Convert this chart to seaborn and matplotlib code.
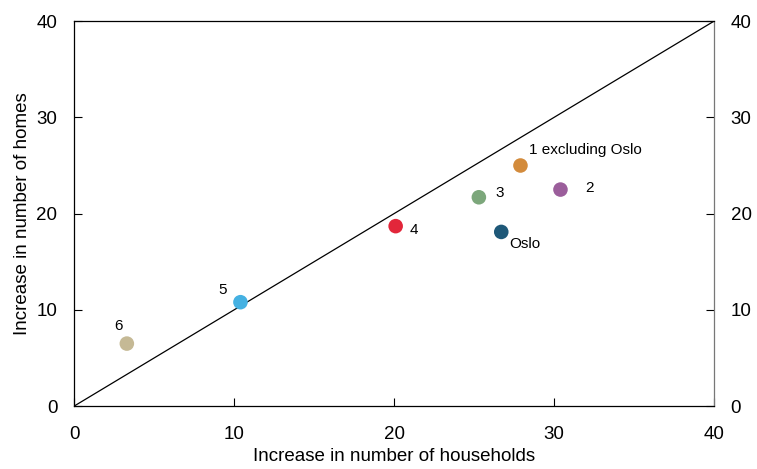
import seaborn as sns
import matplotlib.pyplot as plt
import pandas as pd

# Data
regions = ['1 excluding Oslo', '2', '3', 'Oslo', '4', '5', '6']
households = [27.9, 30.4, 25.3, 26.7, 20.1, 10.4, 3.3]
homes = [25.0, 22.5, 21.7, 18.1, 18.7, 10.8, 6.5]
colors = ['#D38B3C', '#9B5E9B', '#7CA77B', '#1E5878', '#E2263A', '#45B1E2', '#C5B995']
axis_ticks = [0, 10, 20, 30, 40]

df = pd.DataFrame({'region': regions, 'households': households, 'homes': homes})

sns.set_style('white')
plt.rcParams['font.family'] = ['Liberation Sans', 'DejaVu Sans']
plt.rcParams['text.color'] = 'black'
plt.rcParams['axes.labelcolor'] = 'black'
plt.rcParams['xtick.color'] = 'black'
plt.rcParams['ytick.color'] = 'black'

fig = plt.figure(figsize=(7.57, 4.69), dpi=100)
ax = fig.add_axes([0.0978, 0.134, 0.8455, 0.821])

# 45-degree reference line
ax.plot([0, 40], [0, 40], color='black', linewidth=0.9, zorder=1)

sns.scatterplot(data=df, x='households', y='homes', hue='region',
                palette=colors, s=110, edgecolor='none', legend=False,
                ax=ax, zorder=3)

# point labels
label_offsets = {
    '1 excluding Oslo': (6, 11, 'left'),
    '2': (18, 1, 'left'),
    '3': (12, 3, 'left'),
    'Oslo': (6, -9, 'left'),
    '4': (10, -3, 'left'),
    '5': (-10, 9, 'right'),
    '6': (-3, 13, 'right'),
}
for r, x, y in zip(regions, households, homes):
    dx, dy, ha = label_offsets[r]
    ax.annotate(r, (x, y), xytext=(dx, dy), textcoords='offset points',
                ha=ha, va='center', fontsize=11, color='black')

ax.set_xlim(0, 40)
ax.set_ylim(0, 40)
ax.set_xticks(axis_ticks)
ax.set_yticks(axis_ticks)
ax.tick_params(direction='in', length=6, width=0.8, labelsize=13.5)
ax.tick_params(axis='y', left=True, right=True, labelleft=True, labelright=True, pad=12)
ax.tick_params(axis='x', bottom=True, pad=14)
ax.set_xlabel('Increase in number of households', fontsize=13.5, labelpad=4)
ax.set_ylabel('Increase in number of homes', fontsize=13.5, labelpad=4)
for name, sp in ax.spines.items():
    sp.set_color('black')
    sp.set_linewidth(0.9)
ax.spines['right'].set_color('#777777')

fig.savefig('out.png', dpi=100)
